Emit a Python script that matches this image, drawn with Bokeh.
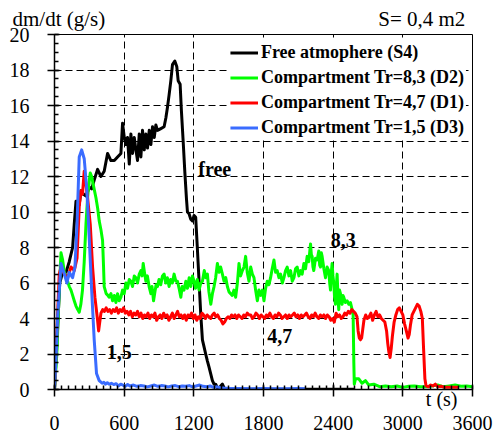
from bokeh.plotting import figure
from bokeh.models import (SingleIntervalTicker, Legend, LegendItem, Label, Range1d, Title)
from bokeh.embed import file_html
from bokeh.resources import INLINE

# ---------------- data ----------------
black_t = [0, 20, 45, 70, 99, 127, 156, 170, 185, 200, 213, 228, 250, 271, 300, 320,
           342, 371, 400, 428, 457, 486, 515, 543, 572, 586, 601, 615, 629, 644, 658,
           672, 687, 701, 715, 730, 744, 758, 773, 787, 801, 816, 830, 844, 859, 873,
           887, 916, 944, 959, 973, 987, 1002, 1016, 1036, 1053, 1065, 1082, 1093, 1108,
           1122, 1136, 1145, 1159, 1173, 1188, 1202, 1216, 1230, 1245, 1259, 1274, 1288,
           1302, 1317, 1331, 1345, 1360, 1374, 1388, 1403, 1417, 1431, 1446, 1460, 1480,
           1500, 1800, 2200, 2580]
black_v = [0.0, 2.5, 6.0, 6.6, 6.6, 7.2, 8.0, 9.3, 10.6, 10.6, 10.4, 11.2, 11.0, 10.9,
           11.4, 11.3, 11.8, 12.4, 12.0, 12.3, 13.3, 12.9, 12.9, 13.1, 13.3, 15.0, 14.2,
           13.8, 14.2, 12.7, 14.4, 13.3, 14.2, 13.5, 12.9, 14.4, 13.1, 14.6, 13.5, 14.4,
           13.6, 14.6, 13.8, 14.8, 14.2, 14.9, 14.6, 14.7, 14.8, 15.3, 15.9, 16.6, 17.4,
           18.3, 18.5, 18.2, 17.4, 17.2, 15.7, 14.0, 12.3, 10.8, 10.0, 9.9, 9.6, 9.5,
           9.8, 9.7, 8.0, 6.1, 4.3, 2.8, 2.4, 2.0, 1.6, 1.26, 0.9, 0.5, 0.3, 0.3, 0.1,
           0.05, 0.2, 0.3, 0.1, 0.03, 0.02, 0.02, 0.02, 0.02]

green_t = [0, 20, 40, 56, 70, 85, 99, 113, 127, 142, 156, 170, 185, 200, 213, 227, 241,
           256, 271, 285, 300, 308, 320, 335, 357, 372, 385, 400, 414, 422, 428, 445,
           460, 470, 486, 500, 515, 529, 543, 557, 572, 586, 600, 615, 629, 644, 658,
           672, 687, 701, 715, 730, 744, 755, 764, 775, 787, 800, 815, 830, 840, 853,
           865, 875, 887, 900, 915, 930, 944, 958, 972, 987, 1000, 1015, 1030, 1045,
           1059, 1073, 1088, 1100, 1115, 1131, 1145, 1160, 1174, 1188, 1202, 1215, 1230,
           1245, 1260, 1274, 1290, 1303, 1317, 1330, 1346, 1360, 1374, 1388, 1403, 1417,
           1431, 1446, 1460, 1475, 1489, 1503, 1517, 1531, 1545, 1560, 1575, 1589, 1603,
           1618, 1632, 1646, 1660, 1675, 1690, 1704, 1718, 1732, 1747, 1761, 1775, 1790,
           1804, 1818, 1832, 1847, 1861, 1875, 1890, 1904, 1918, 1933, 1947, 1962, 1976,
           1990, 2004, 2019, 2033, 2048, 2062, 2076, 2090, 2105, 2119, 2133, 2148, 2162,
           2176, 2190, 2205, 2212, 2219, 2226, 2233, 2248, 2262, 2276, 2284, 2291, 2298,
           2305, 2320, 2334, 2348, 2362, 2370, 2377, 2384, 2391, 2398, 2405, 2412, 2420,
           2427, 2434, 2441, 2448, 2455, 2463, 2470, 2477, 2484, 2491, 2505, 2520, 2535,
           2549, 2563, 2572, 2578, 2582, 2592, 2621, 2649, 2678, 2707, 2750, 2800, 2850,
           2900, 2950, 3000, 3050, 3100, 3150, 3200, 3250, 3300, 3350, 3400, 3450, 3500,
           3550, 3600]
green_v = [0.0, 2.0, 5.5, 7.7, 7.3, 6.6, 6.4, 6.1, 5.8, 5.6, 5.3, 5.0, 4.7, 4.5, 4.35,
           4.8, 5.6, 7.2, 9.3, 10.8, 11.8, 12.2, 12.0, 11.5, 10.8, 10.2, 9.5, 9.0, 8.4,
           7.0, 5.8, 5.4, 5.3, 5.2, 5.4, 5.0, 5.3, 4.9, 5.4, 5.0, 5.2, 5.6, 5.4, 6.0,
           5.7, 6.2, 6.1, 5.8, 6.4, 6.3, 6.0, 6.5, 6.7, 6.4, 7.1, 6.6, 6.1, 6.4, 5.8,
           5.4, 5.8, 5.0, 5.5, 5.9, 5.8, 6.2, 5.9, 6.4, 6.5, 6.0, 6.3, 5.8, 6.2, 6.0,
           6.5, 6.1, 6.1, 5.7, 5.2, 5.8, 5.6, 6.1, 5.7, 6.3, 5.8, 6.4, 6.1, 5.7, 6.2,
           5.6, 6.0, 6.1, 6.7, 6.3, 6.5, 5.5, 4.8, 5.4, 5.8, 6.3, 7.1, 6.6, 6.9, 6.5,
           6.1, 6.3, 5.8, 5.5, 5.4, 5.3, 5.6, 5.2, 6.0, 7.1, 6.4, 6.7, 6.9, 7.5, 6.6,
           6.1, 6.9, 6.5, 6.3, 5.6, 5.0, 5.6, 5.3, 5.6, 5.0, 5.7, 6.1, 5.9, 6.3, 6.8,
           7.3, 6.6, 6.7, 6.3, 6.5, 6.0, 6.3, 6.7, 6.9, 6.4, 6.7, 6.1, 6.3, 6.8, 6.9,
           6.4, 6.7, 6.5, 7.1, 6.8, 7.5, 7.2, 8.2, 7.6, 7.5, 6.9, 6.7, 7.4, 7.3, 7.8,
           7.0, 6.9, 7.7, 7.5, 6.8, 6.3, 6.9, 6.7, 6.0, 5.6, 6.6, 7.1, 6.4, 6.0, 5.2,
           4.8, 5.8, 6.5, 5.3, 4.5, 5.6, 5.4, 5.0, 4.8, 5.3, 5.2, 4.9, 5.0, 4.8, 4.9,
           4.5, 4.2, 1.5, 0.3, 0.6, 0.6, 0.35, 0.5, 0.25, 0.3, 0.16, 0.2, 0.15, 0.2,
           0.12, 0.18, 0.2, 0.15, 0.16, 0.2, 0.26, 0.15, 0.2, 0.25, 0.18, 0.2, 0.15]

red_t = [0, 22, 41, 56, 85, 113, 142, 170, 194, 213, 227, 241, 256, 270, 285, 308, 328,
         348, 371, 380, 400, 415, 430, 445, 460, 475, 490, 505, 520, 535, 550, 565,
         580, 595, 610, 625, 640, 655, 670, 685, 700, 715, 730, 745, 760, 775, 790,
         805, 820, 835, 850, 865, 880, 895, 910, 925, 940, 955, 970, 985, 1000, 1015,
         1030, 1045, 1060, 1075, 1090, 1105, 1120, 1135, 1150, 1165, 1180, 1195, 1210,
         1225, 1240, 1255, 1270, 1285, 1300, 1315, 1330, 1345, 1360, 1375, 1390, 1405,
         1420, 1435, 1450, 1465, 1480, 1495, 1510, 1525, 1540, 1555, 1570, 1585, 1600,
         1615, 1630, 1645, 1660, 1675, 1690, 1705, 1720, 1735, 1750, 1765, 1780, 1795,
         1810, 1825, 1840, 1855, 1870, 1885, 1900, 1915, 1930, 1945, 1960, 1975, 1990,
         2005, 2020, 2035, 2050, 2065, 2080, 2095, 2110, 2125, 2140, 2155, 2170, 2185,
         2200, 2215, 2230, 2245, 2260, 2275, 2290, 2305, 2320, 2335, 2350, 2365, 2380,
         2395, 2410, 2425, 2440, 2455, 2470, 2485, 2500, 2515, 2530, 2545, 2560, 2575,
         2590, 2605, 2615, 2625, 2635, 2645, 2655, 2665, 2680, 2695, 2710, 2725, 2740,
         2755, 2770, 2785, 2800, 2815, 2830, 2845, 2860, 2870, 2880, 2890, 2900, 2910,
         2925, 2940, 2955, 2970, 2985, 3000, 3015, 3030, 3045, 3055, 3065, 3080, 3095,
         3110, 3125, 3140, 3155, 3168, 3178, 3190, 3200, 3220, 3240, 3260, 3280, 3300,
         3330, 3360, 3400, 3440, 3477]
red_v = [0.0, 3.5, 6.5, 6.9, 6.5, 6.3, 6.9, 6.7, 7.4, 10.3, 11.2, 11.0, 12.3, 11.6,
         10.8, 9.3, 6.9, 5.2, 3.9, 3.3, 4.3, 4.5, 4.4, 4.6, 4.4, 4.5, 4.3, 4.5, 4.4,
         4.6, 4.3, 4.5, 4.4, 4.6, 4.3, 4.4, 4.2, 4.4, 4.1, 4.3, 4.2, 4.4, 4.1, 4.3,
         4.0, 4.2, 4.1, 4.3, 4.0, 4.2, 4.1, 4.3, 3.9, 4.1, 4.2, 4.0, 4.3, 4.1, 4.2,
         3.9, 4.1, 4.3, 4.0, 4.2, 4.4, 4.1, 4.2, 4.0, 4.2, 3.9, 4.2, 4.1, 4.3, 4.0,
         4.2, 3.9, 4.1, 4.0, 4.3, 4.2, 4.0, 4.2, 4.1, 4.0, 4.2, 4.3, 4.1, 4.2, 4.0,
         3.9, 3.7, 3.8, 4.0, 4.1, 4.0, 4.2, 4.1, 4.2, 4.0, 4.2, 4.1, 4.0, 4.2, 4.1,
         4.3, 4.2, 4.2, 4.0, 4.1, 4.3, 4.2, 4.0, 4.2, 4.1, 4.0, 4.2, 4.1, 4.3, 4.1,
         4.0, 4.2, 4.1, 4.3, 4.2, 4.0, 4.1, 4.2, 4.0, 4.2, 4.1, 4.2, 4.3, 4.1, 4.2,
         4.0, 4.2, 4.1, 4.2, 4.3, 4.1, 4.0, 4.2, 4.1, 4.3, 4.1, 4.0, 4.2, 4.1, 4.2,
         4.0, 4.2, 4.1, 3.9, 4.0, 3.8, 4.3, 4.1, 4.2, 4.0, 4.1, 4.3, 4.2, 4.4, 4.3,
         4.5, 4.4, 4.3, 4.1, 3.3, 2.9, 2.8, 2.9, 3.4, 3.9, 4.2, 4.0, 4.1, 4.3, 3.9,
         4.2, 4.4, 4.1, 4.2, 4.0, 3.9, 3.8, 3.3, 2.6, 2.1, 1.8, 2.3, 3.0, 3.8, 4.2,
         4.5, 4.6, 4.4, 4.2, 3.7, 3.3, 2.9, 3.1, 3.6, 4.2, 4.4, 4.6, 4.8, 4.7, 4.4,
         4.0, 2.4, 0.6, 0.2, 0.15, 0.25, 0.2, 0.3, 0.15, 0.18, 0.12, 0.13, 0.12, 0.12]

blue_t = [0, 15, 27, 56, 85, 107, 127, 156, 176, 194, 213, 234, 256, 279, 300, 320,
          342, 362, 385, 394, 410, 425, 440, 455, 470, 490, 510, 530, 550, 570, 590,
          610, 630, 650, 680, 710, 740, 770, 800, 830, 860, 890, 920, 950, 980, 1010,
          1040, 1070, 1100, 1130, 1160, 1190, 1220, 1250, 1280, 1310, 1340, 1370, 1400,
          1430, 1460, 1500, 1600, 1700, 1800, 1900, 2000, 2100, 2163]
blue_v = [0.0, 2.0, 4.1, 7.1, 6.5, 6.0, 6.6, 6.3, 6.9, 9.3, 13.1, 13.5, 13.0, 11.2,
          8.4, 5.6, 2.8, 0.9, 0.5, 0.45, 0.35, 0.4, 0.3, 0.38, 0.3, 0.35, 0.28, 0.33,
          0.2, 0.3, 0.25, 0.18, 0.28, 0.2, 0.25, 0.18, 0.22, 0.2, 0.15, 0.2, 0.25,
          0.18, 0.22, 0.2, 0.15, 0.2, 0.22, 0.16, 0.2, 0.18, 0.22, 0.15, 0.2, 0.25,
          0.18, 0.15, 0.2, 0.12, 0.15, 0.1, 0.08, 0.06, 0.05, 0.04, 0.05, 0.04, 0.04,
          0.05, 0.04]

series_names = ["Free atmophere (S4)", "Compartment Tr=8,3 (D2)",
                "Compartment Tr=4,7 (D1)", "Compartment Tr=1,5 (D3)"]
series_colors = ["#000000", "#00ff00", "#ff0000", "#3a6cff"]

x_ticks_interval = 600
y_ticks_interval = 2

y_title = "dm/dt (g/s)"
area_note = "S= 0,4 m2"
x_title = "t (s)"

# ---------------- figure ----------------
SERIF = "Liberation Serif"
NBSP = "\u00a0"
p = figure(width=495, height=433, x_range=Range1d(0, 3600), y_range=Range1d(0, 20),
           output_backend="svg", toolbar_location=None,
           min_border_left=54, min_border_right=23, min_border_top=34,
           min_border_bottom=44, background_fill_color="white",
           border_fill_color="white")
p.outline_line_color = "black"
p.outline_line_width = 1

# top texts: one title line, starting left of the frame
p.title.text = y_title + NBSP * 52 + area_note
p.title.align = "left"
p.title.offset = -42
p.title.standoff = 8
p.title.text_font = SERIF
p.title.text_font_size = "21px"
p.title.text_font_style = "normal"
p.title.text_color = "black"

xt = SingleIntervalTicker(interval=x_ticks_interval, num_minor_ticks=10)
yt = SingleIntervalTicker(interval=y_ticks_interval, num_minor_ticks=4)

xa = p.xaxis[0]
xa.ticker = xt
ya = p.yaxis[0]
ya.ticker = yt
for ax in (xa, ya):
    ax.axis_line_color = "black"
    ax.axis_line_width = 1.5
    ax.major_tick_line_color = "black"
    ax.major_tick_line_width = 1.5
    ax.minor_tick_line_color = "black"
    ax.minor_tick_line_width = 1.5
    ax.major_tick_out = 7
    ax.major_tick_in = 5
    ax.minor_tick_in = 4
    ax.minor_tick_out = 0
    ax.major_label_text_font = SERIF
    ax.major_label_text_font_size = "20px"
    ax.major_label_text_color = "black"
xa.major_label_standoff = 19
ya.major_label_standoff = 18

# "t (s)" just under the axis line at the right: a title panel of (near) zero height
t_title = Title(text=x_title, align="right", offset=15, vertical_align="bottom",
                standoff=-41, text_font=SERIF, text_font_size="20px",
                text_font_style="normal", text_color="black")
p.below = [t_title] + list(p.below)

p.xgrid.ticker = xt
p.ygrid.ticker = yt
for g in (p.xgrid[0], p.ygrid[0]):
    g.grid_line_color = "black"
    g.grid_line_dash = "7 4"
    g.grid_line_width = 1
    g.grid_line_alpha = 1

rs = []
for tt, vv, col in ((black_t, black_v, series_colors[0]),
                    (green_t, green_v, series_colors[1]),
                    (red_t, red_v, series_colors[2]),
                    (blue_t, blue_v, series_colors[3])):
    rs.append(p.line(tt, vv, line_color=col, line_width=3, line_join="round"))

legend = Legend(items=[LegendItem(label=n, renderers=[r]) for n, r in zip(series_names, rs)],
                location="top_right", label_text_font=SERIF,
                label_text_font_style="bold", label_text_font_size="18px",
                label_text_color="black", glyph_width=28, glyph_height=21,
                label_height=21, label_standoff=3, spacing=4, padding=2, margin=6,
                border_line_alpha=0, background_fill_color="white",
                background_fill_alpha=1)
p.add_layout(legend)

def lab(x, y, txt):
    p.add_layout(Label(x=x, y=y, text=txt, text_font=SERIF, text_font_size="20px",
                       text_font_style="bold", text_align="center",
                       text_baseline="middle", text_color="black"))

lab(1380, 12.4, "free")
lab(2486, 8.43, "8,3")
lab(1941, 2.99, "4,7")
lab(557, 2.1, "1,5")

open("out.html", "w").write(file_html(p, INLINE))
